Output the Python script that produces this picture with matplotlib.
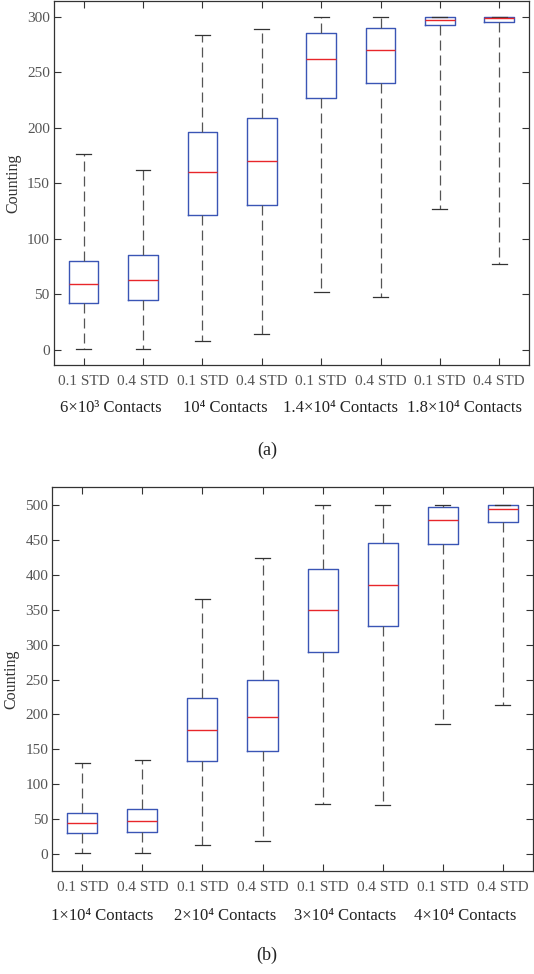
import matplotlib
matplotlib.use('Agg')
import matplotlib.pyplot as plt
from matplotlib.transforms import blended_transform_factory

plt.rcParams['font.family'] = ['Liberation Serif', 'DejaVu Serif']

# Panel (a) box statistics
a_ticks = ["0.1 STD", "0.4 STD"] * 4
a_groups = ["6×10³ Contacts", "10⁴ Contacts", "1.4×10⁴ Contacts", "1.8×10⁴ Contacts"]
a_low = [1, 1, 8, 14, 52, 48, 127, 77]
a_q1 = [42, 45, 121, 130, 227, 240, 292, 295]
a_med = [59, 63, 160, 170, 262, 270, 297, 299]
a_q3 = [80, 85, 196, 209, 285, 290, 300, 300]
a_high = [176, 162, 283, 289, 300, 300, 300, 300]

# Panel (b) box statistics
b_ticks = ["0.1 STD", "0.4 STD"] * 4
b_groups = ["1×10⁴ Contacts", "2×10⁴ Contacts", "3×10⁴ Contacts", "4×10⁴ Contacts"]
b_low = [1, 1, 13, 18, 71, 70, 186, 213]
b_q1 = [30, 31, 133, 147, 290, 326, 444, 475]
b_med = [44, 47, 178, 196, 349, 385, 479, 494]
b_q3 = [59, 64, 224, 250, 408, 446, 497, 500]
b_high = [131, 134, 366, 424, 500, 500, 500, 500]

BLUE = "#3a55b5"
RED = "#e8262a"
GRAY = "#555555"


def draw_panel(ax, low, q1, med, q3, high, ticks, groups, group_x, ylim, yticks, tag, label_y, tag_y):
    stats = []
    for i in range(len(med)):
        stats.append({"whislo": low[i], "q1": q1[i], "med": med[i],
                      "q3": q3[i], "whishi": high[i], "fliers": []})
    positions = list(range(1, len(med) + 1))
    ax.bxp(stats, positions=positions, widths=0.5, showfliers=False,
           boxprops=dict(color=BLUE, linewidth=1.0),
           medianprops=dict(color=RED, linewidth=1.0),
           whiskerprops=dict(color=GRAY, linewidth=0.9, linestyle=(0, (8, 4))),
           capprops=dict(color="#333333", linewidth=0.9))
    ax.set_xlim(0.5, 8.5)
    ax.set_ylim(*ylim)
    ax.set_yticks(yticks)
    ax.set_xticks(positions)
    ax.set_xticklabels(ticks)
    ax.tick_params(direction="in", top=True, right=True, length=5,
                   labelsize=11, labelcolor="#555555", color="#333333", width=0.8)
    ax.tick_params(axis="x", pad=7)
    ax.tick_params(axis="y", pad=3)
    for s in ax.spines.values():
        s.set_color("#333333")
        s.set_linewidth(0.9)
    ax.set_ylabel("Counting", fontsize=11.5, color="#333333", labelpad=4)

    tr = blended_transform_factory(ax.transData, ax.figure.transFigure)
    for gx, name in zip(group_x, groups):
        ax.text(gx, label_y, name, transform=tr, ha="center", va="center",
                fontsize=12, color="#222222")
    ax.figure.text(0.5, tag_y, tag, ha="center", va="center", fontsize=13, color="#222222")


fig = plt.figure(figsize=(5.34, 9.74), dpi=100)
ax1 = fig.add_axes([0.101, 0.6253, 0.8896, 0.3737])
ax2 = fig.add_axes([0.098, 0.1057, 0.8996, 0.394])

draw_panel(ax1, a_low, a_q1, a_med, a_q3, a_high, a_ticks, a_groups,
           [1.455, 3.39, 5.33, 7.41],
           (-13.5, 314), [0, 50, 100, 150, 200, 250, 300], "(a)",
           1 - 408 / 974, 1 - 450 / 974)
draw_panel(ax2, b_low, b_q1, b_med, b_q3, b_high, b_ticks, b_groups,
           [1.33, 3.37, 5.37, 7.37],
           (-24.4, 525.4), [0, 50, 100, 150, 200, 250, 300, 350, 400, 450, 500], "(b)",
           1 - 916 / 974, 1 - 955 / 974)

fig.savefig("out.png", dpi=100)
